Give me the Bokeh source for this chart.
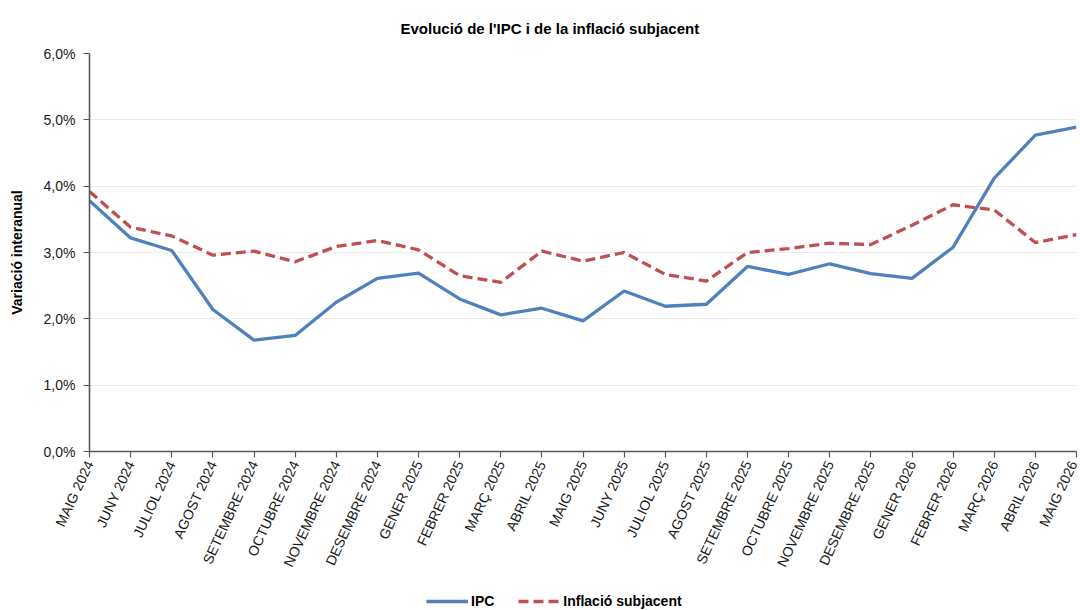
import math
from bokeh.plotting import figure
from bokeh.layouts import column
from bokeh.models import Range1d, FixedTicker, Legend, LegendItem
from bokeh.embed import file_html
from bokeh.resources import INLINE

months = ["MAIG 2024", "JUNY 2024", "JULIOL 2024", "AGOST 2024", "SETEMBRE 2024",
          "OCTUBRE 2024", "NOVEMBRE 2024", "DESEMBRE 2024", "GENER 2025", "FEBRER 2025",
          "MARÇ 2025", "ABRIL 2025", "MAIG 2025", "JUNY 2025", "JULIOL 2025",
          "AGOST 2025", "SETEMBRE 2025", "OCTUBRE 2025", "NOVEMBRE 2025", "DESEMBRE 2025",
          "GENER 2026", "FEBRER 2026", "MARÇ 2026", "ABRIL 2026", "MAIG 2026"]
ipc = [3.78, 3.22, 3.03, 2.14, 1.68, 1.75, 2.25, 2.61, 2.69, 2.30,
       2.06, 2.16, 1.97, 2.42, 2.19, 2.22, 2.79, 2.67, 2.83, 2.68,
       2.61, 3.08, 4.12, 4.77, 4.89]
subjacent = [3.92, 3.38, 3.25, 2.96, 3.02, 2.86, 3.09, 3.18, 3.04, 2.65,
             2.55, 3.02, 2.87, 3.00, 2.67, 2.57, 3.00, 3.06, 3.14, 3.12,
             3.41, 3.72, 3.64, 3.15, 3.27]
y_ticks = [0, 1, 2, 3, 4, 5, 6]
y_tick_labels = ["0,0%", "1,0%", "2,0%", "3,0%", "4,0%", "5,0%", "6,0%"]

title_text = "Evolució de l'IPC i de la inflació subjacent"
y_label = "Variació interanual"
series_names = ["IPC", "Inflació subjacent"]

FONT = "Liberation Sans"
BLUE = "#4F81BD"
RED = "#C0504D"
DASH = "10 5"
x = list(range(len(months)))

p = figure(width=1080, height=576, output_backend="svg", toolbar_location=None,
           x_range=Range1d(0, len(months) - 1), y_range=Range1d(0, 6),
           min_border_left=89, min_border_right=4, min_border_top=51,
           min_border_bottom=125)
p.outline_line_color = None
p.background_fill_color = "white"
p.border_fill_color = "white"

p.title.text = title_text
p.title.text_font = FONT
p.title.text_font_size = "15px"
p.title.text_font_style = "bold"
p.title.text_color = "#000000"
p.title.align = "left"
p.title.offset = 311
p.title.standoff = 34

r1 = p.line(x, ipc, line_color=BLUE, line_width=3.3)
r2 = p.line(x, subjacent, line_color=RED, line_width=3.3, line_dash=DASH)

p.xgrid.grid_line_color = None
p.ygrid.grid_line_color = "#EBEBEB"
p.ygrid.grid_line_width = 1

p.yaxis.ticker = FixedTicker(ticks=y_ticks)
p.yaxis.major_label_overrides = {t: l for t, l in zip(y_ticks, y_tick_labels)}
p.yaxis.axis_label = y_label
p.yaxis.axis_label_text_font = FONT
p.yaxis.axis_label_text_font_size = "14px"
p.yaxis.axis_label_text_font_style = "bold"
p.yaxis.axis_label_text_color = "#000000"
p.yaxis.axis_label_standoff = 16

p.xaxis.ticker = FixedTicker(ticks=x)
p.xaxis.major_label_overrides = {i: m for i, m in zip(x, months)}
p.xaxis.major_label_orientation = math.radians(65)

for ax in (p.xaxis, p.yaxis):
    ax.axis_line_color = "#595959"
    ax.axis_line_width = 1.6
    ax.major_tick_line_color = "#595959"
    ax.major_tick_line_width = 1.2
    ax.major_tick_out = 6
    ax.major_tick_in = 0
    ax.minor_tick_line_color = None
    ax.major_label_text_font = FONT
    ax.major_label_text_font_size = "14px"
    ax.major_label_text_color = "#1a1a1a"
p.yaxis.major_label_standoff = 8
p.xaxis.major_label_standoff = 4

# legend strip below the chart (series drawn out of view, only their legend shows)
pl = figure(width=1080, height=34, output_backend="svg", toolbar_location=None,
            x_range=Range1d(1000, 1001), y_range=Range1d(0, 1), min_border=0)
pl.axis.visible = False
pl.grid.grid_line_color = None
pl.outline_line_color = None
pl.background_fill_color = "white"
pl.border_fill_color = "white"
l1 = pl.line(x, ipc, line_color=BLUE, line_width=3.3)
l2 = pl.line(x, subjacent, line_color=RED, line_width=3.3, line_dash=DASH)

legend = Legend(items=[LegendItem(label=series_names[0], renderers=[l1]),
                       LegendItem(label=series_names[1], renderers=[l2])],
                orientation="horizontal", location=(337, 1))
legend.border_line_color = None
legend.background_fill_alpha = 0
legend.label_text_font = FONT
legend.label_text_font_size = "14px"
legend.label_text_font_style = "bold"
legend.label_text_color = "#000000"
legend.glyph_width = 42
legend.glyph_height = 14
legend.label_height = 14
legend.label_standoff = 3
legend.spacing = 24
legend.padding = 0
legend.margin = 0
pl.add_layout(legend, "center")

layout = column(p, pl, spacing=0)
open("out.html", "w").write(file_html(layout, INLINE))
